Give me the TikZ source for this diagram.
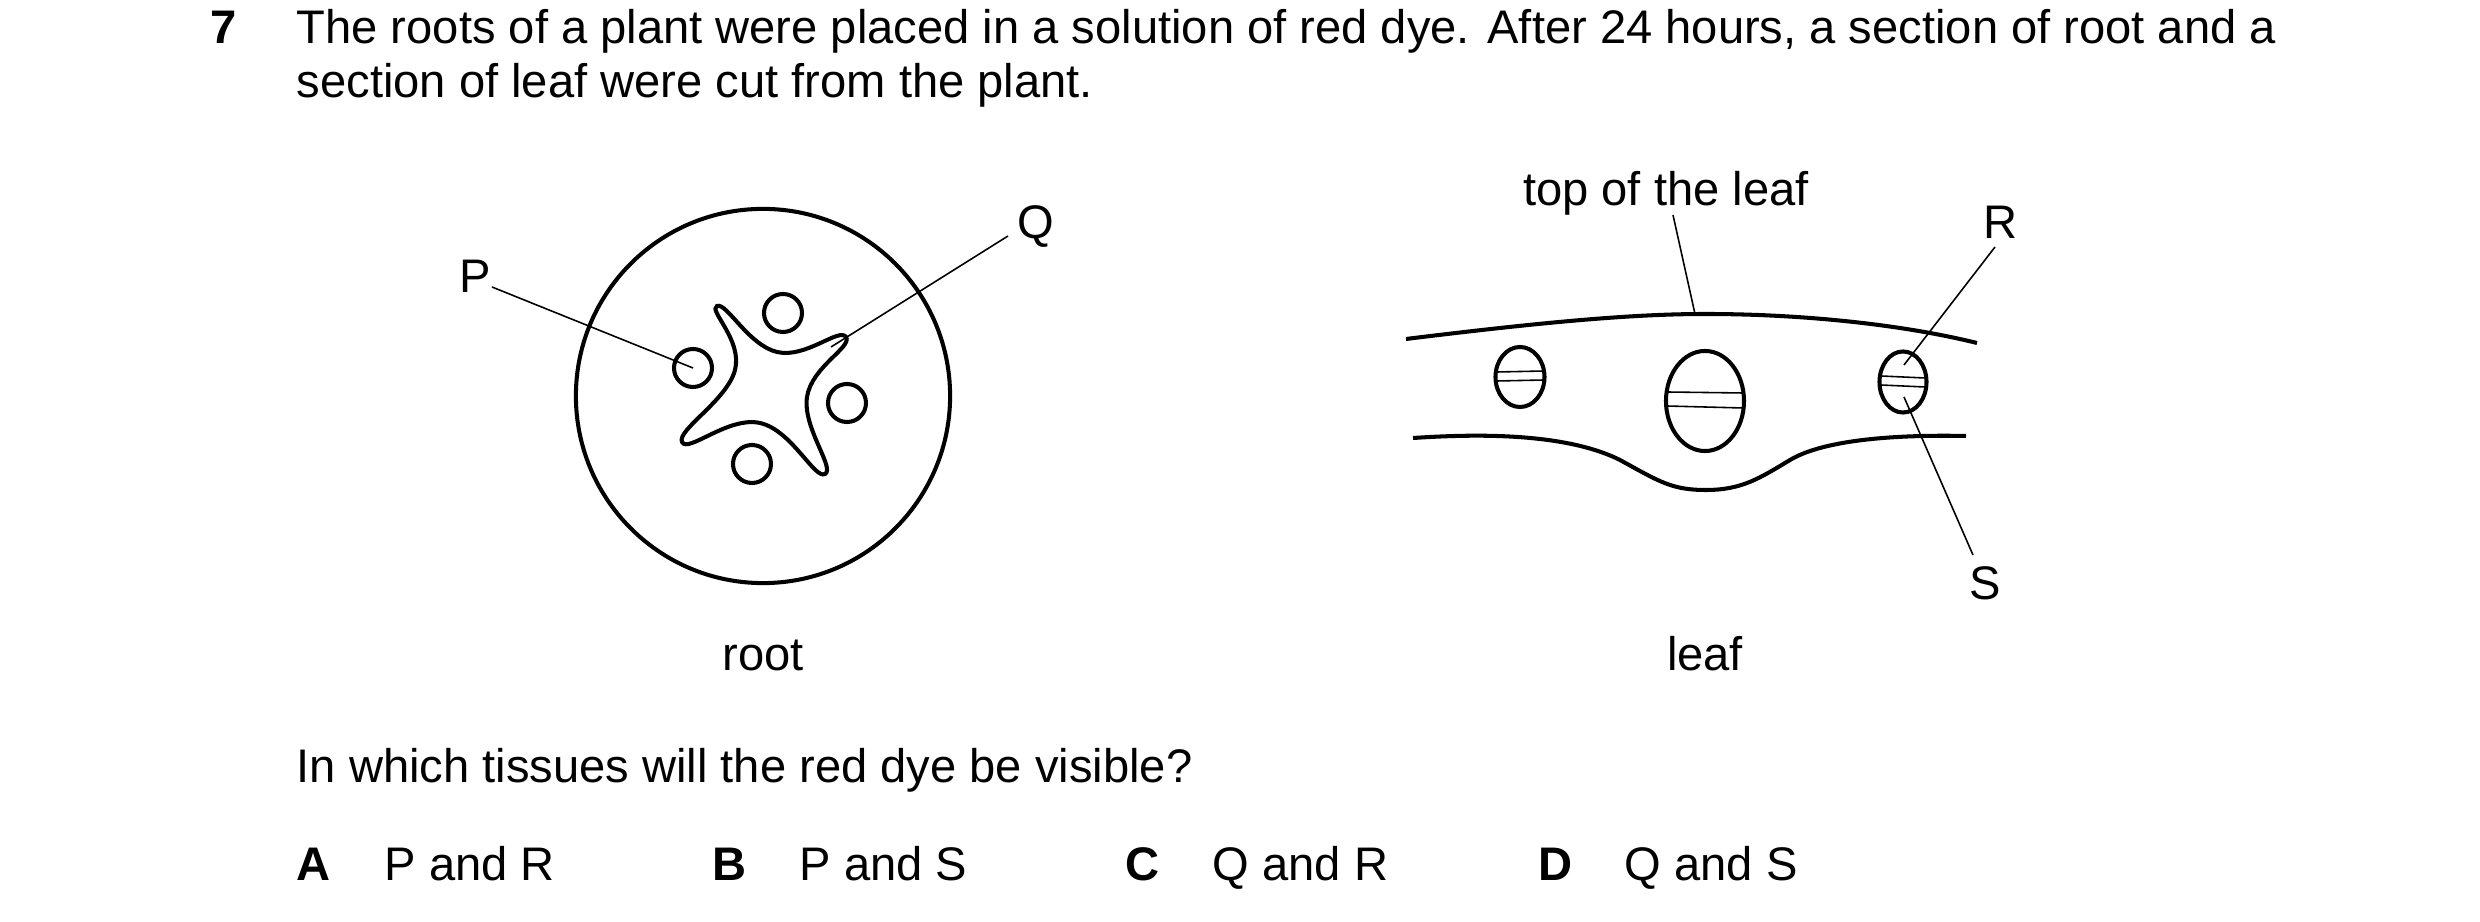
\documentclass[tikz,border=0pt]{standalone}
\usepackage{fontspec}
\usetikzlibrary{shapes.geometric}
\setmainfont{Liberation Sans}
\begin{document}
\begin{tikzpicture}[x=0.01cm,y=-0.01cm,
  thick line/.style={line width=1.15pt},
  ptr/.style={line width=0.45pt},
  inner/.style={line width=0.45pt},
  txt/.style={anchor=base west,inner sep=0,font=\fontsize{13.4}{16}\selectfont},
  lbl/.style={anchor=base,inner sep=0,font=\fontsize{13.4}{16}\selectfont}]
\useasboundingbox (0,0) rectangle (2480,922);
% question text
\node[txt,font=\fontsize{13.4}{16}\selectfont\bfseries] (num) at (210,44) {7};
\node[txt] (l1) at (296,44) {The roots of a plant were placed in a solution of red dye. After 24 hours, a section of root and a};
\node[txt] (l2) at (296,98) {section of leaf were cut from the plant.};
% root
\node[draw,thick line,circle,minimum size=3.74cm,inner sep=0] (root) at (763,396) {};
\foreach \n/\x/\y in {p/693/368,c2/783/313,c3/847/403,c4/752/464}
  \node[draw,thick line,circle,minimum size=0.38cm,inner sep=0] (\n) at (\x,\y) {};
\draw[thick line] plot[smooth cycle,tension=0.8] coordinates {
 (717,306) (735,370) (682,442) (760,423) (825,474) (807,397) (846,337) (777,352)};
\node[lbl] (P) at (475,293) {P};
\node[lbl] (Q) at (1036,239) {Q};
\coordinate (pe) at (693,368);
\coordinate (qe) at (831,347);
\draw[ptr] (492,287) -- (pe);
\draw[ptr] (1008,236) -- (qe);
\node[lbl] (rootl) at (763,671) {root};
% leaf
\draw[thick line] (1406,339) .. controls (1560,320) and (1640,314) .. (1706,314) .. controls (1800,314) and (1900,324) .. (1977,343);
\draw[thick line] (1413,438) .. controls (1460,435) and (1560,430) .. (1620,460) .. controls (1660,482) and (1672,490) .. (1706,490) .. controls (1742,490) and (1760,478) .. (1790,460) .. controls (1830,436) and (1920,435) .. (1966,436);
\node[draw,thick line,ellipse,minimum width=0.49cm,minimum height=0.60cm,inner sep=0] (e1) at (1520,377) {};
\node[draw,thick line,ellipse,minimum width=0.78cm,minimum height=1.00cm,inner sep=0] (e2) at (1705,401) {};
\node[draw,thick line,ellipse,minimum width=0.47cm,minimum height=0.61cm,inner sep=0] (e3) at (1903,382) {};
\draw[inner] (1497,372) -- (1544,371) (1497,381) -- (1544,380);
\draw[inner] (1667,392) -- (1743,393) (1667,406) -- (1743,408);
\draw[inner] (1881,376) -- (1925,378) (1881,385) -- (1925,387);
\node[lbl] (top) at (1666,206) {top of the leaf};
\node[lbl] (R) at (2001,239) {R};
\node[lbl] (S) at (1985,600) {S};
\coordinate (topc) at (1695,314);
\coordinate (re) at (1904,365);
\coordinate (se) at (1904,397);
\draw[ptr] (1673,215) -- (topc);
\draw[ptr] (1995,247) -- (re);
\draw[ptr] (1973,555) -- (se);
\node[lbl] (leafl) at (1705,671) {leaf};
% question
\node[txt] (qq) at (296,783) {In which tissues will the red dye be visible?};
\node[txt,font=\fontsize{13.4}{16}\selectfont\bfseries] (A) at (296,881) {A};
\node[txt] (At) at (384,881) {P and R};
\node[txt,font=\fontsize{13.4}{16}\selectfont\bfseries] (B) at (712,881) {B};
\node[txt] (Bt) at (799,881) {P and S};
\node[txt,font=\fontsize{13.4}{16}\selectfont\bfseries] (C) at (1125,881) {C};
\node[txt] (Ct) at (1212,881) {Q and R};
\node[txt,font=\fontsize{13.4}{16}\selectfont\bfseries] (D) at (1538,881) {D};
\node[txt] (Dt) at (1624,881) {Q and S};
\end{tikzpicture}
\end{document}
